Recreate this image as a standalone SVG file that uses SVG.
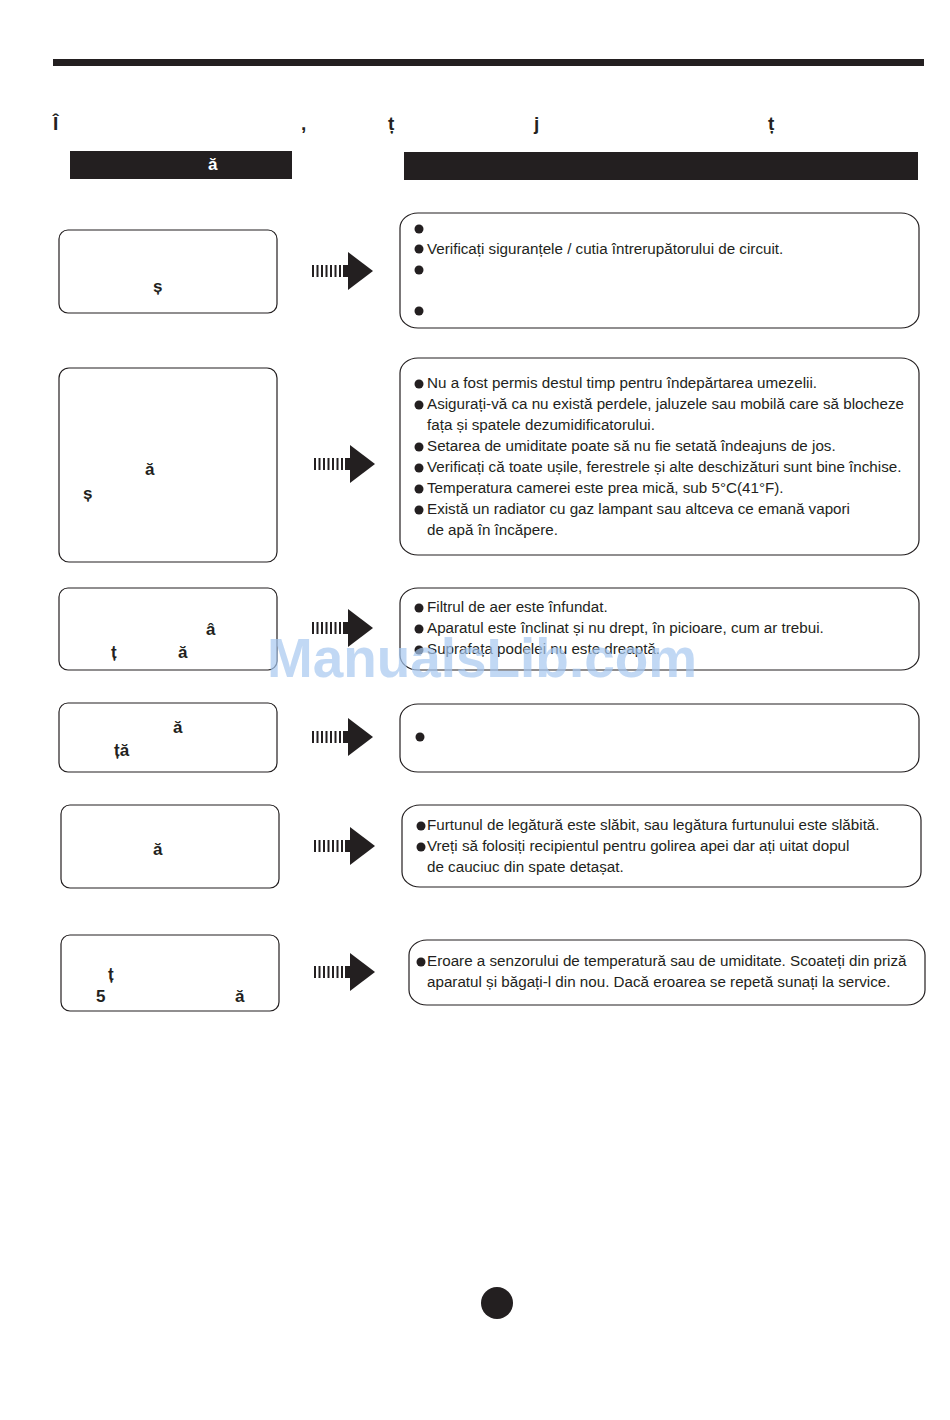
<svg xmlns="http://www.w3.org/2000/svg" xmlns:xlink="http://www.w3.org/1999/xlink" width="950" height="1420" viewBox="0 0 950 1420">
<style>
.box{fill:#fff;stroke:#231f20;stroke-width:1.2}
.hdr{fill:#231f20}
.lt{font-family:"Liberation Sans",Arial,sans-serif;font-weight:bold;font-size:17px;fill:#231f20}
.tt{font-family:"Liberation Sans",Arial,sans-serif;font-weight:bold;font-size:19px;fill:#231f20}
.wt{font-family:"Liberation Sans",Arial,sans-serif;font-weight:bold;font-size:17px;fill:#fff}
.bt{font-family:"Liberation Sans",Arial,sans-serif;font-size:15.2px;fill:#231f20}
.bul{fill:#231f20}
.wm{font-family:"Liberation Sans",Arial,sans-serif;font-weight:bold;font-size:56px;fill:#a6c7f0;fill-opacity:0.7}
</style>
<defs>
<g id="arrow">
<line x1="0" y1="0" x2="31" y2="0" stroke="#231f20" stroke-width="12" stroke-dasharray="2 2.5"/>
<rect x="31" y="-6" width="6" height="12" fill="#231f20"/>
<polygon points="36,-19 61,0 36,19" fill="#231f20"/>
</g>
</defs>
<rect width="950" height="1420" fill="#fff"/>
<rect x="53" y="59" width="871" height="7" fill="#231f20"/>
<g id="title">
<text class="tt" x="53" y="130">Î</text>
<text class="tt" x="301" y="130">,</text>
<text class="tt" x="388" y="130">ț</text>
<text class="tt" x="534" y="130">j</text>
<text class="tt" x="768" y="130">ț</text>
</g>
<g id="header-left">
<rect class="hdr" x="70" y="151" width="222" height="28"/>
<text class="wt" x="208" y="170">ă</text>
</g>
<g id="header-right">
<rect class="hdr" x="404" y="152" width="514" height="28"/>
</g>
<g id="problem1">
<rect class="box" x="59" y="230" width="218" height="83" rx="9"/>
<text class="lt" x="153" y="292">ș</text>
</g>
<g id="problem2">
<rect class="box" x="59" y="368" width="218" height="194" rx="10"/>
<text class="lt" x="145" y="475">ă</text>
<text class="lt" x="83" y="499">ș</text>
</g>
<g id="problem3">
<rect class="box" x="59" y="588" width="218" height="82" rx="9"/>
<text class="lt" x="206" y="635">â</text>
<text class="lt" x="111" y="658">ț</text>
<text class="lt" x="178" y="658">ă</text>
</g>
<g id="problem4">
<rect class="box" x="59" y="703" width="218" height="69" rx="9"/>
<text class="lt" x="173" y="733">ă</text>
<text class="lt" x="114" y="756">ță</text>
</g>
<g id="problem5">
<rect class="box" x="61" y="805" width="218" height="83" rx="9"/>
<text class="lt" x="153" y="855">ă</text>
</g>
<g id="problem6">
<rect class="box" x="61" y="935" width="218" height="76" rx="9"/>
<text class="lt" x="108" y="980">ț</text>
<text class="lt" x="96" y="1002">5</text>
<text class="lt" x="235" y="1002">ă</text>
</g>
<g id="connectors">
<use xlink:href="#arrow" href="#arrow" transform="translate(312,271)"/>
<use xlink:href="#arrow" href="#arrow" transform="translate(314,464)"/>
<use xlink:href="#arrow" href="#arrow" transform="translate(312,628)"/>
<use xlink:href="#arrow" href="#arrow" transform="translate(312,737)"/>
<use xlink:href="#arrow" href="#arrow" transform="translate(314,846)"/>
<use xlink:href="#arrow" href="#arrow" transform="translate(314,972)"/>
</g>
<g id="solution1">
<rect class="box" x="400" y="213" width="519" height="115" rx="18" ry="15"/>
<circle class="bul" cx="419" cy="229" r="4.5"/>
<circle class="bul" cx="419" cy="249" r="4.5"/>
<circle class="bul" cx="419" cy="270" r="4.5"/>
<circle class="bul" cx="419" cy="311" r="4.5"/>
<text class="bt" x="427" y="254">Verificați siguranțele / cutia întrerupătorului de circuit.</text>
</g>
<g id="solution2">
<rect class="box" x="400" y="358" width="519" height="197" rx="18" ry="15"/>
<circle class="bul" cx="419" cy="384" r="4.5"/>
<circle class="bul" cx="419" cy="405" r="4.5"/>
<circle class="bul" cx="419" cy="447" r="4.5"/>
<circle class="bul" cx="419" cy="468" r="4.5"/>
<circle class="bul" cx="419" cy="489" r="4.5"/>
<circle class="bul" cx="419" cy="510" r="4.5"/>
<text class="bt" x="427" y="388">Nu a fost permis destul timp pentru îndepărtarea umezelii.</text>
<text class="bt" x="427" y="409">Asigurați-vă ca nu există perdele, jaluzele sau mobilă care să blocheze</text>
<text class="bt" x="427" y="430">fața și spatele dezumidificatorului.</text>
<text class="bt" x="427" y="451">Setarea de umiditate poate să nu fie setată îndeajuns de jos.</text>
<text class="bt" x="427" y="472">Verificați că toate ușile, ferestrele și alte deschizături sunt bine închise.</text>
<text class="bt" x="427" y="493">Temperatura camerei este prea mică, sub 5°C(41°F).</text>
<text class="bt" x="427" y="514">Există un radiator cu gaz lampant sau altceva ce emană vapori</text>
<text class="bt" x="427" y="535">de apă în încăpere.</text>
</g>
<g id="solution3">
<rect class="box" x="400" y="588" width="519" height="82" rx="18" ry="15"/>
<circle class="bul" cx="419" cy="608" r="4.5"/>
<circle class="bul" cx="419" cy="629" r="4.5"/>
<circle class="bul" cx="419" cy="650" r="4.5"/>
<text class="bt" x="427" y="612">Filtrul de aer este înfundat.</text>
<text class="bt" x="427" y="633">Aparatul este înclinat și nu drept, în picioare, cum ar trebui.</text>
<text class="bt" x="427" y="654">Suprafața podelei nu este dreaptă.</text>
</g>
<g id="solution4">
<rect class="box" x="400" y="704" width="519" height="68" rx="18" ry="15"/>
<circle class="bul" cx="420" cy="737" r="4.5"/>
</g>
<g id="solution5">
<rect class="box" x="402" y="805" width="519" height="82" rx="18" ry="15"/>
<circle class="bul" cx="421" cy="826" r="4.5"/>
<circle class="bul" cx="421" cy="847" r="4.5"/>
<text class="bt" x="427" y="830">Furtunul de legătură este slăbit, sau legătura furtunului este slăbită.</text>
<text class="bt" x="427" y="851">Vreți să folosiți recipientul pentru golirea apei dar ați uitat dopul</text>
<text class="bt" x="427" y="872">de cauciuc din spate detașat.</text>
</g>
<g id="solution6">
<rect class="box" x="409" y="940" width="516" height="65" rx="18" ry="15"/>
<circle class="bul" cx="421" cy="962" r="4.5"/>
<text class="bt" x="427" y="966">Eroare a senzorului de temperatură sau de umiditate. Scoateți din priză</text>
<text class="bt" x="427" y="987">aparatul și băgați-l din nou. Dacă eroarea se repetă sunați la service.</text>
</g>
<circle id="page" cx="497" cy="1303" r="16" fill="#231f20"/>
<text class="wm" x="267" y="677" textLength="430" lengthAdjust="spacingAndGlyphs">ManualsLib.com</text>
</svg>
